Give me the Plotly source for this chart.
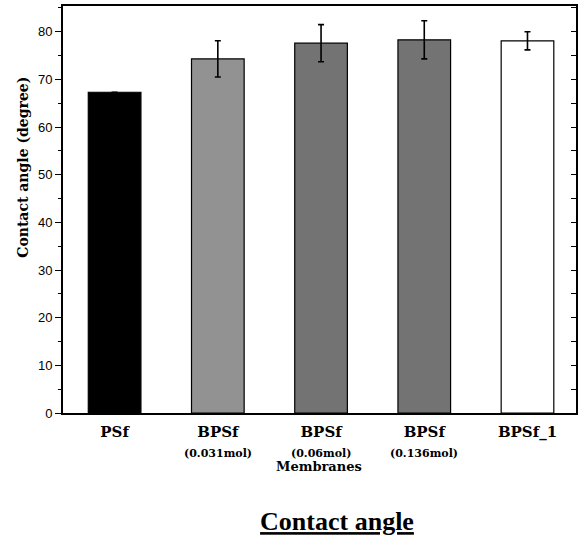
import plotly.graph_objects as go

# ---- data ----
categories = ["PSf", "BPSf (0.031mol)", "BPSf (0.06mol)", "BPSf (0.136mol)", "BPSf_1"]
main_labels = ["PSf", "BPSf", "BPSf", "BPSf", "BPSf_1"]
sub_labels = ["", "(0.031mol)", "(0.06mol)", "(0.136mol)", ""]
contact_angle = [67.3, 74.3, 77.6, 78.3, 78.1]
errors = [0, 3.8, 3.9, 4.0, 1.9]
bar_colors = ["#000000", "#929292", "#737373", "#737373", "#ffffff"]
y_tick_vals = [0, 10, 20, 30, 40, 50, 60, 70, 80]

W, H = 582, 542
L, R, T, B = 63, 4, 5, 129
plot_h = H - T - B

fig = go.Figure()
fig.add_trace(go.Bar(
    x=categories, y=contact_angle, width=0.51,
    marker=dict(color=bar_colors, line=dict(color="black", width=1.2)),
    error_y=dict(type="data", array=errors, visible=True, color="black",
                 thickness=1.6, width=3),
    showlegend=False, hoverinfo="skip",
))
# invisible companion trace so the right-hand (inward-tick) axis is drawn
fig.add_trace(go.Scatter(
    x=categories, y=contact_angle, yaxis="y2", mode="markers",
    marker=dict(opacity=0), showlegend=False, hoverinfo="skip",
))

serif = "DejaVu Serif"

fig.update_layout(
    width=W, height=H,
    margin=dict(l=L, r=R, t=T, b=B),
    paper_bgcolor="white", plot_bgcolor="white",
    xaxis=dict(
        range=[-0.5, 4.47],
        tickvals=categories, ticktext=[f"<b>{t}</b>" for t in main_labels],
        tickfont=dict(family=serif, size=15, color="black"),
        ticks="", ticklabelstandoff=4,
        showline=True, linecolor="black", linewidth=2, mirror=True,
        showgrid=False, zeroline=False,
    ),
    yaxis=dict(
        range=[0, 85.4],
        tickvals=y_tick_vals,
        ticks="outside", ticklen=6, tickwidth=1.2, tickcolor="black",
        minor=dict(dtick=5, tick0=0, ticks="outside", ticklen=3, tickcolor="black", tickwidth=1),
        tickfont=dict(family="Liberation Sans", size=13, color="black"),
        showline=True, linecolor="black", linewidth=2, mirror=True,
        showgrid=False, zeroline=False,
    ),
    yaxis2=dict(
        overlaying="y", side="right", range=[0, 85.4],
        tickmode="linear", tick0=0, dtick=5,
        ticks="inside", ticklen=5, tickcolor="black", tickwidth=1.2,
        showticklabels=False, showgrid=False, zeroline=False, showline=False,
    ),
    title=dict(
        text="<b><u>Contact angle</u></b>",
        font=dict(family="Liberation Serif", size=26, color="black"),
        x=337 / W, xanchor="center", xref="container",
        y=1 - 521 / H, yanchor="middle", yref="container",
    ),
)

# sub-labels under categories
for c, s in zip(categories, sub_labels):
    if s:
        fig.add_annotation(
            x=c, xref="x", y=(413 - 454) / plot_h, yref="paper",
            text=f"<b>{s}</b>", showarrow=False, yanchor="middle",
            font=dict(family=serif, size=11, color="black"),
        )

# x axis title
fig.add_annotation(
    x=0.499, xref="paper", y=(413 - 467) / plot_h, yref="paper",
    text="<b>Membranes</b>", showarrow=False, yanchor="middle",
    font=dict(family=serif, size=13, color="black"),
)

# y axis title
fig.add_annotation(
    x=(22 - L) / (W - L - R), xref="paper", y=(413 - 167) / plot_h, yref="paper",
    text="<b>Contact angle (degree)</b>", textangle=-90, showarrow=False,
    xanchor="center", yanchor="middle",
    font=dict(family=serif, size=14, color="black"),
)

fig.write_html("out.html", config={"displayModeBar": False},
               post_script="document.body.style.margin='0';document.body.style.overflow='hidden';")
